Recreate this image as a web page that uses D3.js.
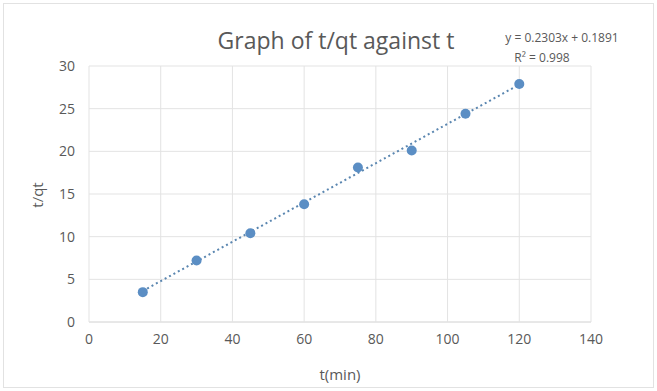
<!DOCTYPE html>
<html lang="en">
<head>
<meta charset="UTF-8">
<title>t/qt against t</title>
<script src="https://cdn.jsdelivr.net/npm/d3@7"></script>
<style>
    body{ margin:0; background:#fff; }
    text{ font-family: "Liberation Sans Narrow", "Open Sans", sans-serif; fill:#595959; }
</style>
</head>
<body>
<svg id="main" width="657" height="391"></svg>
<script>
    // data
    let tVals = [15, 30, 45, 60, 75, 90, 105, 120]
    let tqtVals = [3.5, 7.2, 10.4, 13.8, 18.1, 20.1, 24.4, 27.9]
    let xTicks = [0, 20, 40, 60, 80, 100, 120, 140]
    let yTicks = [0, 5, 10, 15, 20, 25, 30]
    let slope = 0.2303, intercept = 0.1891

    let svg = d3.select("#main")
    // chart border
    svg.append("rect").attr("x", 3.5).attr("y", 3.5).attr("width", 650).attr("height", 384)
        .attr("fill", "#fff").attr("stroke", "#e2e2e2")

    let x = d3.scaleLinear().domain([0, 140]).range([89, 591])
    let y = d3.scaleLinear().domain([0, 30]).range([322, 66])

    // grid
    svg.append("g").selectAll("line").data(yTicks).join("line")
        .attr("x1", x(0)).attr("x2", x(140))
        .attr("y1", d => y(d)).attr("y2", d => y(d))
        .attr("stroke", d => d === 0 ? "#d0d0d0" : "#e3e3e3")
    svg.append("g").selectAll("line").data(xTicks).join("line")
        .attr("y1", y(0)).attr("y2", y(30))
        .attr("x1", d => x(d)).attr("x2", d => x(d))
        .attr("stroke", "#e3e3e3")

    // tick labels
    svg.append("g").selectAll("text").data(xTicks).join("text")
        .attr("x", d => x(d)).attr("y", 344)
        .attr("text-anchor", "middle").attr("font-size", 14).text(d => d)
    svg.append("g").selectAll("text").data(yTicks).join("text")
        .attr("x", 75).attr("y", d => y(d) + 5)
        .attr("text-anchor", "end").attr("font-size", 14).text(d => d)

    // trendline
    let line = d3.line().x(d => x(d)).y(d => y(slope * d + intercept))
    svg.append("path").datum([15, 120]).attr("d", line)
        .attr("fill", "none").attr("stroke", "#5a86b0").attr("stroke-width", 2)
        .attr("stroke-dasharray", "2,3")

    // points
    svg.append("g").selectAll("circle").data(tVals).join("circle")
        .attr("cx", d => x(d)).attr("cy", (d, i) => y(tqtVals[i]))
        .attr("r", 5).attr("fill", "#5b8ec4")

    // titles
    svg.append("text").attr("x", 336).attr("y", 49).attr("text-anchor", "middle")
        .attr("font-size", 23).text("Graph of t/qt against t")
    svg.append("text").attr("x", 562).attr("y", 42).attr("text-anchor", "middle")
        .attr("font-size", 12).attr("fill", "#404040").text("y = 0.2303x + 0.1891")
    svg.append("text").attr("x", 542).attr("y", 62).attr("text-anchor", "middle")
        .attr("font-size", 12).attr("fill", "#404040").text("R² = 0.998")
    svg.append("text").attr("x", 340).attr("y", 380).attr("text-anchor", "middle")
        .attr("font-size", 15).text("t(min)")
    svg.append("text").attr("transform", "translate(43,195) rotate(-90)").attr("text-anchor", "middle")
        .attr("font-size", 15).text("t/qt")
</script>
</body>
</html>
